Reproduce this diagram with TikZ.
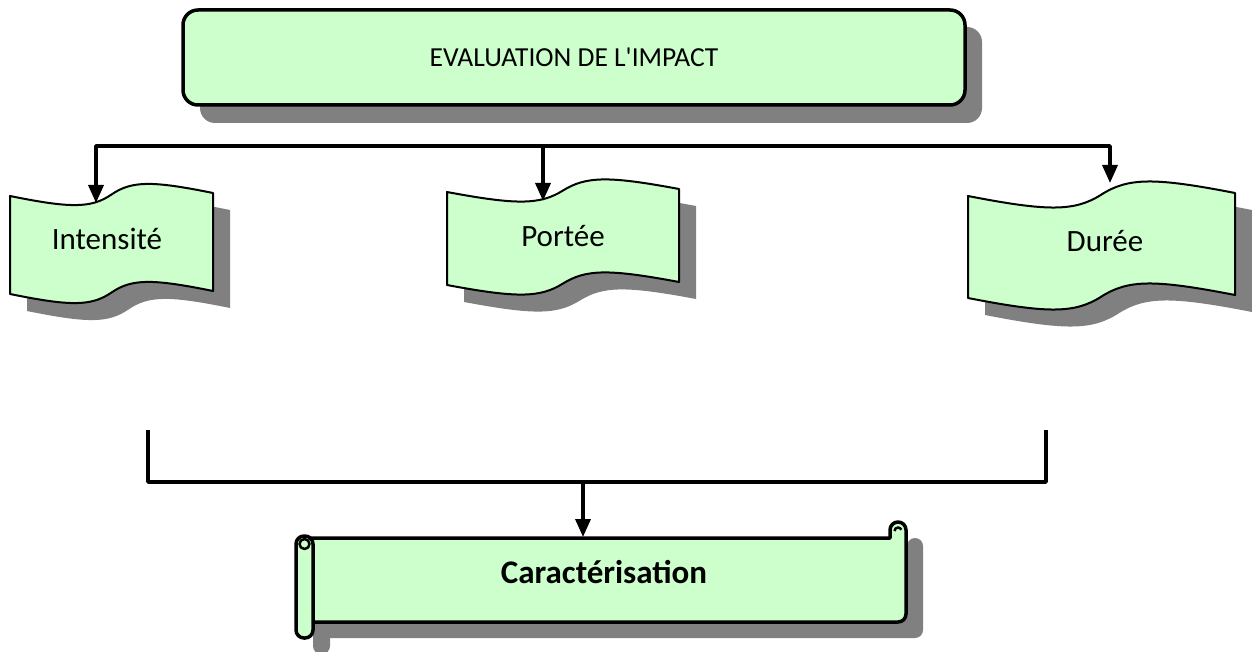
\documentclass[tikz,border=0pt]{standalone}
\usepackage{fontspec}
\setmainfont{Carlito}
\newfontfamily\plainfont{Carlito}[Ligatures=TeXOff]
\usetikzlibrary{arrows.meta}
\definecolor{boxgreen}{HTML}{CCFFCC}
\definecolor{shadowgray}{HTML}{808080}
\tikzset{
  conn/.style={line width=3.4pt, black},
  arr/.style={conn, -{Triangle[length=18pt,width=15pt]}},
  waveline/.style={draw=black, line width=2pt, fill=boxgreen},
  shad/.style={fill=shadowgray, draw=none},
  lbl/.style={font=\fontsize{31}{36}\selectfont, anchor=base, inner sep=0pt},
}
% #1 left, #2 right, #3 top y, #4 bottom y, #5 amplitude, #6 style
\newcommand\wavepathdraw[6]{%
  \path[#6] (#1,#3)
    .. controls ({#1+0.3*(#2-#1)},{#3+1.3*#5}) and ({0.5*(#1+#2)-0.1*(#2-#1)},{#3+1.3*#5}) .. ({0.5*(#1+#2)},{#3-1.5})
    .. controls ({0.5*(#1+#2)+0.1*(#2-#1)},{#3-1.3*#5-3}) and ({#2-0.3*(#2-#1)},{#3-1.3*#5-3}) .. (#2,{#3-3})
    -- (#2,{#4-3})
    .. controls ({#2-0.3*(#2-#1)},{#4-1.3*#5-3}) and ({0.5*(#1+#2)+0.1*(#2-#1)},{#4-1.3*#5-3}) .. ({0.5*(#1+#2)},{#4-1.5})
    .. controls ({0.5*(#1+#2)-0.1*(#2-#1)},{#4+1.3*#5}) and ({#1+0.3*(#2-#1)},{#4+1.3*#5}) .. (#1,#4)
    -- cycle;}
\newcommand\wavebox[5]{%
  \begin{scope}[shift={(17,17)}]\wavepathdraw{#1}{#2}{#3}{#4}{#5}{shad}\end{scope}
  \wavepathdraw{#1}{#2}{#3}{#4}{#5}{waveline}}
\newcommand\scrollbody{(305,538) -- (890,538) -- (890,530) arc[start angle=180, end angle=0, radius=8pt] -- (906,614) arc[start angle=0, end angle=-90, radius=8pt] -- (305,622) -- cycle}
\begin{document}
\begin{tikzpicture}[x=1pt, y=-1pt, line join=round]
\useasboundingbox (0,0) rectangle (1252,652);

% top box
\fill[shad, rounded corners=15pt] (200,27) rectangle (982,123);
\node[draw=black, line width=3.5pt, fill=boxgreen, rounded corners=15pt,
      minimum width=782pt, minimum height=95pt, inner sep=0pt,
      font=\plainfont\fontsize{27.5}{32}\selectfont] (eval) at (574,57.5) {EVALUATION DE L'IMPACT};

% wave boxes
\wavebox{10}{213}{196}{294}{9.5}
\wavebox{447}{679}{192}{285}{10}
\wavebox{968}{1235}{196}{298}{12}
\node[lbl] (int) at (107,250) {Intensité};
\node[lbl] (por) at (563,247) {Portée};
\node[lbl] (dur) at (1105,252) {Durée};

% top connectors
\coordinate (hl) at (96,146);
\coordinate (hm) at (543,146);
\coordinate (hmt) at (543,144.5);
\coordinate (hr) at (1110,146);
\coordinate (ti) at (96,203);
\coordinate (tp) at (543,201);
\coordinate (td) at (1110,183);
\draw[arr] (hm) -- (hl) -- (ti);
\draw[arr] (hm) -- (hr) -- (td);
\draw[arr] (hmt) -- (tp);

% bottom connectors
\coordinate (bl) at (148,430);
\coordinate (blc) at (148,482);
\coordinate (brc) at (1046,482);
\coordinate (br) at (1046,430);
\coordinate (bm) at (583,482);
\coordinate (ct) at (583,537);
\draw[conn] (bl) -- (blc) -- (brc) -- (br);
\draw[arr] (bm) -- (ct);

% scroll shadow
\begin{scope}[shift={(17,16)}]
  \fill[shad] \scrollbody;
  \fill[shad, rounded corners=8pt] (296,536) rectangle (313,638);
\end{scope}
% scroll
\path[draw=black, line width=3.5pt, fill=boxgreen] \scrollbody;
\fill[boxgreen] (898,530) circle[radius=3.5pt];
\draw[line width=2.5pt] (894.5,531) arc[start angle=180, end angle=20, radius=3.5pt];
\path[draw=black, line width=3.5pt, fill=boxgreen, rounded corners=8pt] (296,536) rectangle (313,638);
\draw[line width=2.5pt, fill=boxgreen] (304.5,544) circle[radius=5pt];
\node[lbl, font=\bfseries\fontsize{33}{38}\selectfont] (car) at (604,583) {Caractérisation};
\end{tikzpicture}
\end{document}
